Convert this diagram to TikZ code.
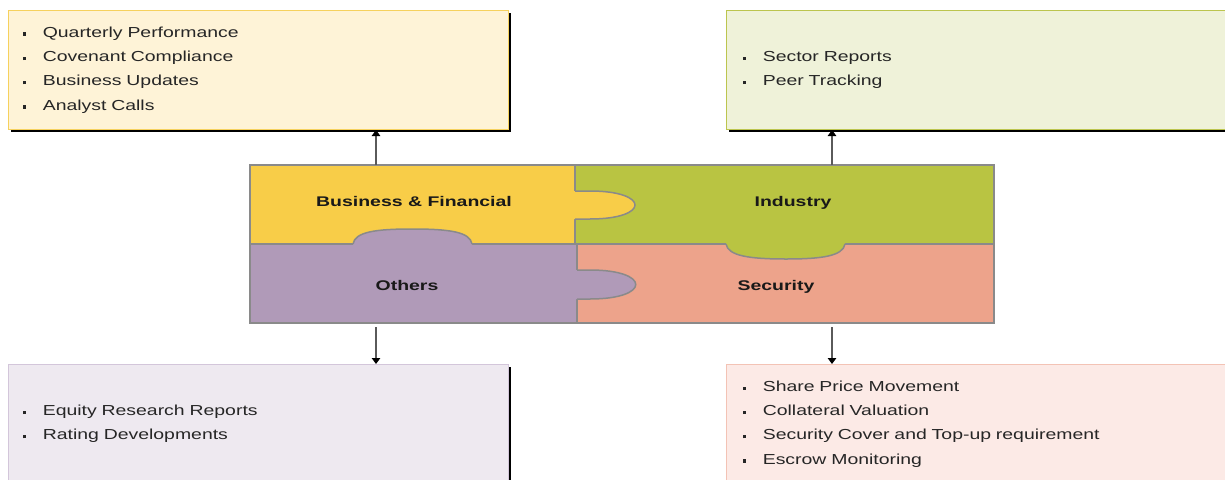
\documentclass[tikz,border=0pt]{standalone}
\usepackage{fontspec}
\setmainfont{Liberation Sans}[FakeStretch=1.34]
\newfontfamily\lblfont{Liberation Sans}[FakeStretch=1.39]
\usetikzlibrary{arrows.meta,shadows}
\definecolor{tlfill}{HTML}{FEF3D7}
\definecolor{tlline}{HTML}{F6D15E}
\definecolor{trfill}{HTML}{EFF2D9}
\definecolor{trline}{HTML}{BCC54E}
\definecolor{blfill}{HTML}{EEE9F0}
\definecolor{blline}{HTML}{D3C6DA}
\definecolor{brfill}{HTML}{FCEAE6}
\definecolor{brline}{HTML}{F3C3B5}
\definecolor{bfcol}{HTML}{F8CD48}
\definecolor{indcol}{HTML}{B9C442}
\definecolor{othcol}{HTML}{B09AB8}
\definecolor{seccol}{HTML}{EDA38B}
\definecolor{pgray}{HTML}{8A8A8A}
\definecolor{agray}{HTML}{5A5A5A}
\newcommand\bitem[1]{\rule[1.5pt]{3.3pt}{3.3pt}\hspace{17pt}#1}
\tikzset{
  infobox/.style={draw, line width=1pt, minimum width=500pt, minimum height=119pt,
    text width=472pt, inner xsep=14pt, inner ysep=0pt, align=left, anchor=north west,
    font=\fontsize{14.5}{24.3}\selectfont, text=black!85,
    drop shadow={shadow xshift=2.5pt, shadow yshift=-2.5pt, fill=black, opacity=1}},
  quad/.style={fill=#1, inner sep=0pt, minimum height=79pt},
  pline/.style={draw=pgray, line width=1.5pt},
  lbl/.style={anchor=base, font=\lblfont\bfseries\fontsize{14}{16}\selectfont, text=black!90},
  arr/.style={draw=agray, line width=1.2pt, -{Triangle[length=6pt,width=8.5pt,color=black]}}
}
\begin{document}
\begin{tikzpicture}[x=1pt,y=-1pt]
\useasboundingbox (0,0) rectangle (1225,479);
% info boxes
\node[infobox, draw=tlline, fill=tlfill] (tl) at (8,10)
  {\bitem{Quarterly Performance}\\\bitem{Covenant Compliance}\\\bitem{Business Updates}\\\bitem{Analyst Calls}};
\node[infobox, draw=trline, fill=trfill, minimum width=504pt] (tr) at (726,10)
  {\bitem{Sector Reports}\\\bitem{Peer Tracking}};
\node[infobox, draw=blline, fill=blfill] (bl) at (8,364)
  {\bitem{Equity Research Reports}\\\bitem{Rating Developments}};
\node[infobox, draw=brline, fill=brfill, minimum width=504pt] (br) at (726,364)
  {\bitem{Share Price Movement}\\\bitem{Collateral Valuation}\\\bitem{Security Cover and Top-up requirement}\\\bitem{Escrow Monitoring}};
% puzzle quadrants
\node[quad=bfcol, minimum width=325pt] (bf) at (412.5,204.5) {};
\node[quad=indcol, minimum width=419pt] (ind) at (784.5,204.5) {};
\node[quad=othcol, minimum width=327pt] (oth) at (413.5,283.5) {};
\node[quad=seccol, minimum width=417pt] (sec) at (785.5,283.5) {};
% dividers
\draw[pline] (bf.north east) -- (bf.south east);
\draw[pline] (oth.north east) -- (oth.south east);
\draw[pline] (bf.south west) -- (ind.south east);
% tabs
\fill[bfcol] (573,191) -- (590,191) .. controls (650,191) and (650,219) .. (590,219) -- (573,219) -- cycle;
\draw[pline] (575,191) -- (590,191) .. controls (650,191) and (650,219) .. (590,219) -- (575,219);
\fill[othcol] (353,246) -- (353,244) .. controls (355,232) and (375,229) .. (412,229) .. controls (450,229) and (470,232) .. (472,244) -- (472,246) -- cycle;
\draw[pline] (353,244) .. controls (355,232) and (375,229) .. (412,229) .. controls (450,229) and (470,232) .. (472,244);
\fill[indcol] (726,242) -- (726,244) .. controls (728,256) and (750,259) .. (786,259) .. controls (822,259) and (843,256) .. (845,244) -- (845,242) -- cycle;
\draw[pline] (726,244) .. controls (728,256) and (750,259) .. (786,259) .. controls (822,259) and (843,256) .. (845,244);
\fill[othcol] (575,270) -- (590,270) .. controls (651,270) and (651,299) .. (590,299) -- (575,299) -- cycle;
\draw[pline] (577,270) -- (590,270) .. controls (651,270) and (651,299) .. (590,299) -- (577,299);
% outer frame
\draw[pline] (bf.north west) rectangle (sec.south east);
% labels
\node[lbl] (lbf) at (414,206) {Business \& Financial};
\node[lbl] (lind) at (793,206) {Industry};
\node[lbl] (loth) at (407,290) {Others};
\node[lbl] (lsec) at (776,290) {Security};
% arrows
\coordinate (a1) at (376,165);
\coordinate (a2) at (832,165);
\coordinate (a3) at (376,327);
\coordinate (a4) at (832,327);
\draw[arr] (a1) -- (a1 |- tl.south);
\draw[arr] (a2) -- (a2 |- tr.south);
\draw[arr] (a3) -- (a3 |- bl.north);
\draw[arr] (a4) -- (a4 |- br.north);
\end{tikzpicture}
\end{document}
